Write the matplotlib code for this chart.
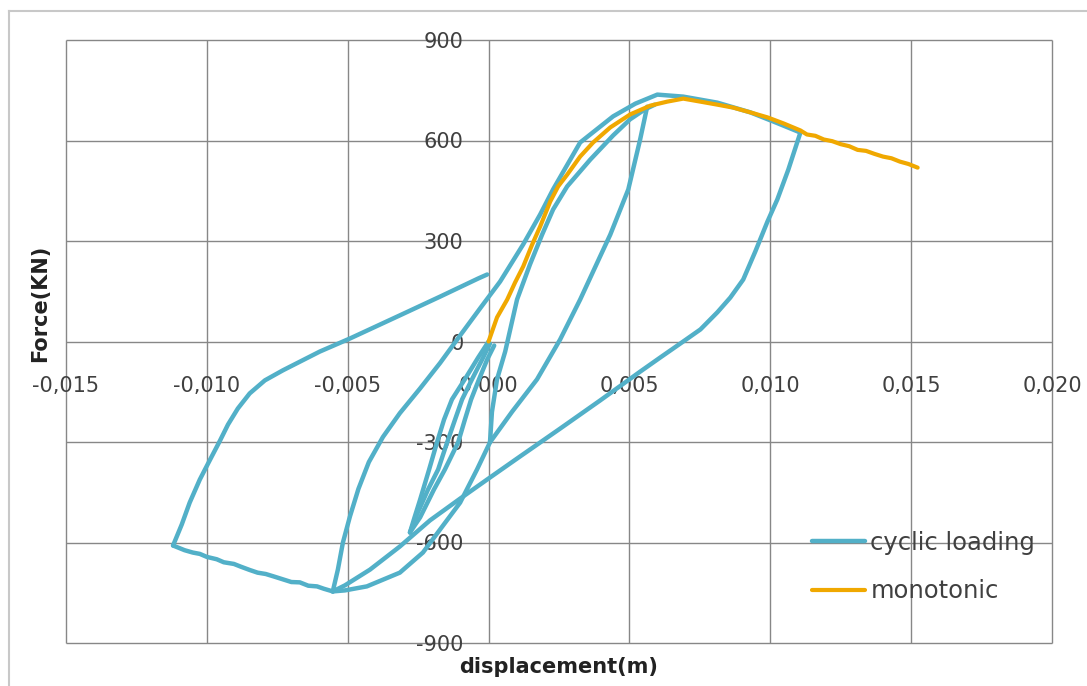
import matplotlib.pyplot as plt
from matplotlib.lines import Line2D

CYCLIC_COLOR = "#52B0C8"
MONO_COLOR = "#F0A800"
GRID_COLOR = "#878787"
TEXT_COLOR = "#404040"

plt.rcParams["font.family"] = ["DejaVu Sans"]

# axis ticks
x_ticks = [-0.015, -0.010, -0.005, 0.0, 0.005, 0.010, 0.015, 0.020]
x_tick_labels = ["-0,015", "-0,010", "-0,005", "0,000", "0,005", "0,010", "0,015", "0,020"]
y_ticks = [-900, -600, -300, 0, 300, 600, 900]
y_tick_labels = ["-900", "-600", "-300", "0", "300", "600", "900"]

# monotonic curve (displacement m, force kN)
mono_disp = [0.0, 0.0003, 0.00066, 0.00094, 0.00123, 0.00155, 0.00183, 0.00219, 0.00247,
             0.00279, 0.00325, 0.00371, 0.00432, 0.00503, 0.00574, 0.00634, 0.00691,
             0.00752, 0.00812, 0.00869, 0.00929, 0.0099, 0.01047, 0.01107, 0.0113,
             0.0116, 0.0119, 0.0122, 0.0125, 0.0128, 0.0131, 0.0134, 0.0137, 0.0140,
             0.0143, 0.0146, 0.0149, 0.01523]
mono_force = [0, 72, 125, 176, 224, 290, 343, 418, 463, 498, 552, 594, 639, 678, 704, 716,
              725, 716, 707, 698, 684, 669, 651, 630, 618, 614, 603, 598, 589, 583, 572,
              569, 560, 552, 547, 537, 530, 519]

# cyclic loading, drawn branch by branch
# small cycles between origin and the -0.0028 peak
cyc_b1_disp = [0.0, -0.00037, -0.0008, -0.0013, -0.00158, -0.00183, -0.00211, -0.00243, -0.00265, -0.00279]
cyc_b1_force = [0, -48, -107, -173, -233, -301, -382, -472, -531, -570]
cyc_b2_disp = [-0.00279, -0.00254, -0.00215, -0.00179, -0.00147, -0.00119, -0.00094, -0.00059, -0.00023, 0.00005]
cyc_b2_force = [-570, -516, -442, -382, -301, -233, -173, -113, -54, -6]
cyc_b3_disp = [-0.00279, -0.00243, -0.00194, -0.00155, -0.00108, -0.00084, -0.00062, -0.00034, -0.00005, 0.0002]
cyc_b3_force = [-570, -525, -442, -382, -301, -233, -173, -113, -54, -12]

# reloading branch up to the +0.0057 peak
cyc_up1_disp = [0.00005, 0.00012, 0.0003, 0.00059, 0.00101, 0.00147, 0.0019, 0.00229,
                0.00279, 0.00361, 0.00442, 0.00502, 0.00555, 0.0059]
cyc_up1_force = [-301, -210, -113, -30, 125, 230, 319, 394, 463, 543, 615, 663, 693, 707]

# unloading from +0.0057 down to the -0.0055 peak
cyc_dn1_disp = [0.00563, 0.00538, 0.00496, 0.00432, 0.00396, 0.00325, 0.00254, 0.00172,
                0.00084, 0.00005, -0.00041, -0.00101, -0.00172, -0.00233, -0.00315,
                -0.00432, -0.0051, -0.00553]
cyc_dn1_force = [701, 603, 454, 319, 254, 125, 6, -113, -209, -301, -382, -481, -561, -630,
                 -690, -731, -743, -746]

# reloading from -0.0055 to the +0.011 peak
cyc_up2_disp = [-0.00553, -0.00535, -0.00517, -0.00492, -0.00462, -0.00425, -0.00375,
                -0.00315, -0.00243, -0.00172, -0.00101, -0.0003, 0.00041, 0.00123, 0.00183,
                0.00229, 0.00325, 0.00442, 0.00521, 0.00599, 0.00691, 0.00812, 0.00929,
                0.0101, 0.01106]
cyc_up2_force = [-746, -681, -600, -522, -440, -360, -285, -214, -140, -64, 18, 99, 179, 290,
                 379, 454, 594, 672, 710, 737, 731, 713, 684, 657, 624]

# unloading from +0.011 back to -0.0055
cyc_dn2_disp = [0.01107, 0.01064, 0.01025, 0.0099, 0.00947, 0.00904, 0.00858, 0.00812,
                0.00752, 0.00691, 0.00609, 0.00538, 0.00396, 0.00254, 0.00112, 0.00005,
                -0.00101, -0.00208, -0.00315, -0.00421, -0.0051, -0.00553]
cyc_dn2_force = [624, 513, 424, 358, 269, 185, 131, 87, 36, 0, -48, -90, -176, -260, -343,
                 -406, -469, -534, -612, -681, -728, -746]

# softening to the -0.011 peak
cyc_dn3_disp = [-0.00553, -0.00585, -0.00609, -0.0064, -0.0067, -0.007, -0.0073, -0.0076,
                -0.00791, -0.0082, -0.00848, -0.0088, -0.00904, -0.0094, -0.00965, -0.01,
                -0.01025, -0.0105, -0.01079, -0.0112]
cyc_dn3_force = [-746, -738, -731, -729, -719, -718, -710, -702, -694, -690, -682, -672,
                 -664, -659, -650, -643, -634, -630, -623, -609]

# last reloading
cyc_up3_disp = [-0.0112, -0.01089, -0.01061, -0.01025, -0.0099, -0.00954, -0.00925, -0.0089,
                -0.00848, -0.00794, -0.0073, -0.00599, -0.00492, -0.00315, -0.00172,
                -0.00037, -0.00005]
cyc_up3_force = [-609, -546, -481, -412, -355, -297, -248, -200, -155, -116, -86, -30, 9, 78,
                 134, 188, 200]

cyc_branches = [
    (cyc_b1_disp, cyc_b1_force), (cyc_b2_disp, cyc_b2_force), (cyc_b3_disp, cyc_b3_force),
    (cyc_up1_disp, cyc_up1_force), (cyc_dn1_disp, cyc_dn1_force),
    (cyc_up2_disp, cyc_up2_force), (cyc_dn2_disp, cyc_dn2_force),
    (cyc_dn3_disp, cyc_dn3_force), (cyc_up3_disp, cyc_up3_force),
]

W, H = 1087, 686
fig = plt.figure(figsize=(W / 100, H / 100), dpi=100)
fig.patch.set_facecolor("white")

# outer chart border (top and left visible in the original)
fig.add_artist(Line2D([8.5 / W, 1.0], [1 - 11 / H, 1 - 11 / H], color="#C8C8C8", lw=1.5))
fig.add_artist(Line2D([8.5 / W, 8.5 / W], [0.0, 1 - 11 / H], color="#C8C8C8", lw=1.5))

ax = fig.add_axes([66 / W, 43 / H, 986 / W, 603 / H])
ax.set_xlim(-0.015, 0.020)
ax.set_ylim(-900, 900)

# grid (also forms the plot-area border and the zero axes)
ax.vlines(x_ticks, -900, 900, colors=GRID_COLOR, lw=1.0, zorder=1, clip_on=False)
ax.hlines(y_ticks, -0.015, 0.020, colors=GRID_COLOR, lw=1.0, zorder=1, clip_on=False)

for i, (d, f) in enumerate(cyc_branches):
    ax.plot(d, f, color=CYCLIC_COLOR, lw=3.2, solid_capstyle="round",
            solid_joinstyle="round", zorder=2,
            label="cyclic loading" if i == 0 else None)
ax.plot(mono_disp, mono_force, color=MONO_COLOR, lw=3.0, solid_capstyle="round",
        solid_joinstyle="round", zorder=2.2, label="monotonic")

for spine in ax.spines.values():
    spine.set_visible(False)
ax.spines["left"].set_position(("data", 0))
ax.spines["bottom"].set_position(("data", 0))

ax.set_xticks(x_ticks, labels=x_tick_labels)
ax.set_yticks(y_ticks, labels=y_tick_labels)
ax.tick_params(axis="both", length=0, labelsize=15, labelcolor=TEXT_COLOR)
ax.tick_params(axis="y", pad=18)
ax.tick_params(axis="x", pad=25)

fig.text(40 / W, 1 - 303 / H, "Force(KN)", rotation=90, ha="center", va="center",
         fontsize=15, fontweight="bold", color="#222222")
fig.text(559 / W, 1 - 667 / H, "displacement(m)", ha="center", va="center",
         fontsize=15, fontweight="bold", color="#222222")

ax.legend(loc="upper left", bbox_to_anchor=(812 / W, 1 - 531 / H),
          bbox_transform=fig.transFigure, frameon=False, fontsize=17.5,
          handlelength=2.2, handletextpad=0.2, labelspacing=1.0,
          borderpad=0, borderaxespad=0, labelcolor=TEXT_COLOR)

fig.savefig("out.png", dpi=100, facecolor="white")
